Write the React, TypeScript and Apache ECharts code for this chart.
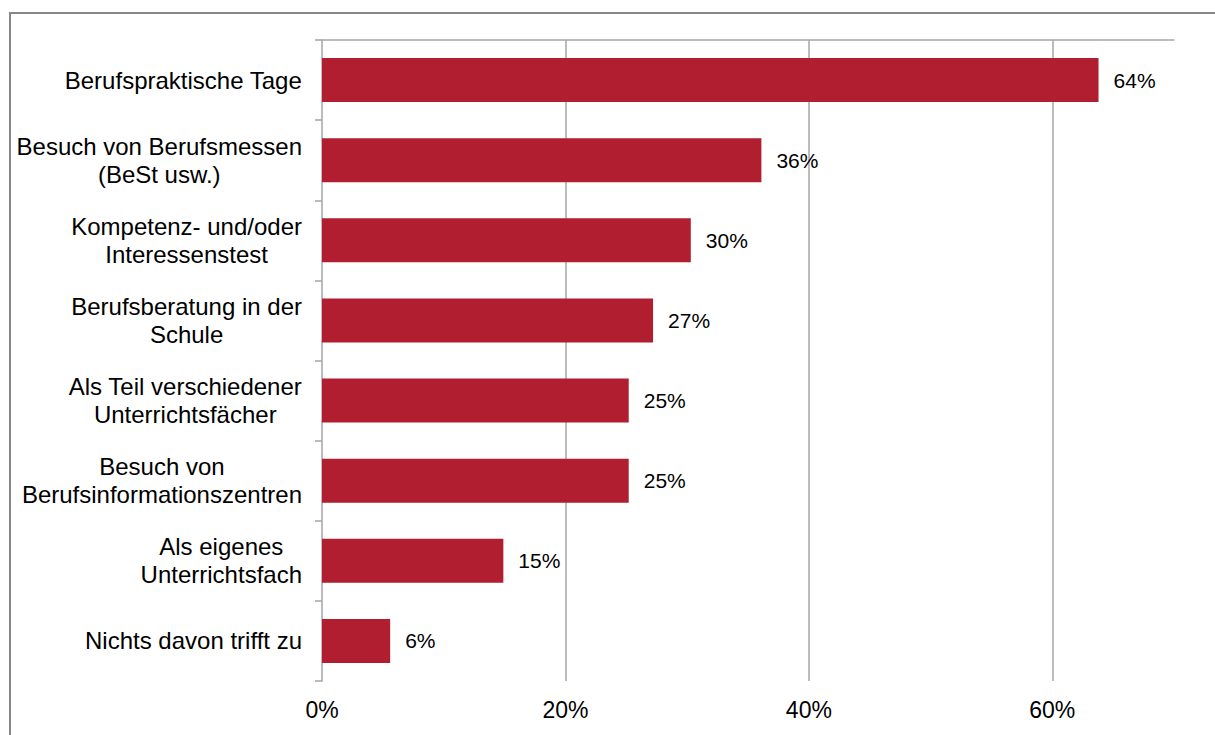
import React, { useEffect, useRef } from "react";
import * as echarts from "echarts";

const categories: string[] = [
  "Berufspraktische Tage",
  "Besuch von Berufsmessen\n(BeSt usw.)",
  "Kompetenz- und/oder\nInteressenstest",
  "Berufsberatung in der\nSchule",
  "Als Teil verschiedener\nUnterrichtsfächer",
  "Besuch von\nBerufsinformationszentren",
  "Als eigenes\nUnterrichtsfach",
  "Nichts davon trifft zu",
];

const values: number[] = [63.8, 36.1, 30.3, 27.2, 25.2, 25.2, 14.9, 5.6];

const xTicks: number[] = [0, 20, 40, 60];

const FONT = "'Liberation Sans', Arial, sans-serif";

export default function App() {
  const ref = useRef<HTMLDivElement>(null);

  useEffect(() => {
    if (!ref.current) return;
    const chart = echarts.init(ref.current, null, { renderer: "svg" });
    chart.setOption({
      animation: false,
      backgroundColor: "#ffffff",
      graphic: [
        {
          type: "rect",
          shape: { x: 10, y: 13, width: 1400, height: 1000 },
          style: { fill: "none", stroke: "#878787", lineWidth: 2 },
          silent: true,
        },
      ],
      grid: { left: 322, top: 40, right: 41, bottom: 54, containLabel: false },
      xAxis: [
        {
          type: "value",
          position: "bottom",
          min: 0,
          max: 70,
          interval: 20,
          axisLine: { show: false },
          axisTick: { show: false },
          axisLabel: {
            showMaxLabel: false,
            margin: 17,
            color: "#000",
            fontSize: 23,
            fontFamily: FONT,
            formatter: (v: number) => (xTicks.includes(v) ? v + "%" : ""),
          },
          splitLine: {
            show: true,
            showMinLine: false,
            showMaxLine: false,
            lineStyle: { color: "#a6a6a6", width: 1.5 },
          },
        },
        {
          type: "value",
          position: "top",
          min: 0,
          max: 70,
          interval: 20,
          axisLine: { show: true, onZero: false, lineStyle: { color: "#a6a6a6", width: 1.5 } },
          axisTick: { show: false },
          axisLabel: { show: false },
          splitLine: { show: false },
        },
      ],
      yAxis: {
        type: "category",
        data: categories,
        inverse: true,
        axisLine: { show: true, lineStyle: { color: "#a6a6a6", width: 1.5 } },
        axisTick: { show: true, length: 7, lineStyle: { color: "#a6a6a6", width: 1.5 } },
        axisLabel: {
          margin: 20,
          color: "#000",
          fontSize: 24,
          fontFamily: FONT,
          lineHeight: 28,
          formatter: (v: string) =>
            v
              .split("\n")
              .map((l) => "{c|" + l + "}")
              .join("\n"),
          rich: {
            c: {
              align: "center",
              fontSize: 24,
              lineHeight: 28,
              fontFamily: FONT,
              color: "#000",
            },
          },
        },
      },
      series: [
        {
          type: "bar",
          xAxisIndex: 0,
          data: values,
          barWidth: 44,
          itemStyle: { color: "#b01e2f" },
          label: {
            show: true,
            position: "right",
            distance: 15,
            color: "#000",
            fontSize: 21,
            fontFamily: FONT,
            formatter: (p: any) => Math.round(p.value) + "%",
          },
        },
      ],
    });
    return () => chart.dispose();
  }, []);

  return (
    <div
      ref={ref}
      style={{ position: "fixed", left: 0, top: 0, width: 1215, height: 735 }}
    />
  );
}
